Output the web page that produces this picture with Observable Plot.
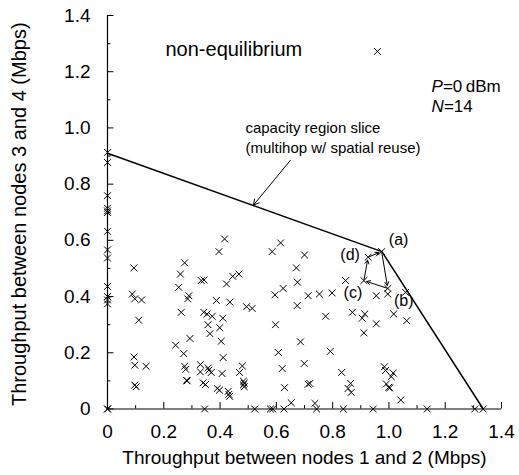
<!DOCTYPE html>
<html><head><meta charset="utf-8">
<script src="https://cdn.jsdelivr.net/npm/d3@7"></script>
<script src="https://cdn.jsdelivr.net/npm/@observablehq/plot@0.6"></script>
<style>body{margin:0;background:#fff}svg{font-family:"Liberation Sans",Arial,Helvetica,sans-serif}</style>
</head><body><div id="chart"></div>
<script>
// Throughput pairs (nodes 1-2, nodes 3-4) in Mbps, non-equilibrium points
const ptX = [0,0,0,0,0,0,0,0,0,0,0,0,0,0,0,
0.094,0.088,0.097,0.121,0.111,0.094,0.097,0.137,0.097,0.102,
0.274,0.259,0.253,0.333,0.343,0.289,0.285,0.262,0.342,0.354,0.372,
0.396,0.416,0.423,0.387,0.435,0.410,
0.242,0.293,0.271,0.274,0.278,0.281,0.283,
0.330,0.330,0.358,0.360,0.369,0.340,0.348,
0.357,0.364,0.399,0.404,0.411,0.407,
0.390,0.398,0.429,0.431,0.434,0.345,
0.615,0.585,0.700,0.671,0.675,0.624,0.595,0.713,0.753,0.798,0.674,0.775,0.846,0.870,
0.445,0.467,0.494,0.514,
0.597,0.686,0.607,0.792,0.699,0.621,0.479,0.469,
0.483,0.486,0.483,0.486,
0.629,0.713,0.719,0.653,0.737,
0.832,0.864,0.855,0.866,
0.523,0.579,0.587,0.627,0.743,0.838,0.944,1.136,1.305,1.335,
0.974,0.926,0.911,0.996,0.996,0.955,1.059,1.017,1.063,0.905,0.914,0.955,0.911,
0.984,0.988,1.015,1.008,0.991,0.999,1.003,1.042];
const ptY = [0.913,0.877,0.759,0.714,0.705,0.699,0.632,0.566,0.537,0.436,0.400,0.388,0.374,0,0,
0.502,0.409,0.392,0.388,0.316,0.185,0.156,0.152,0.085,0.079,
0.520,0.480,0.433,0.457,0.459,0.403,0.392,0.344,0.344,0.338,0.330,
0.560,0.605,0.445,0.386,0.380,0.323,
0.227,0.251,0.197,0.152,0.141,0.102,0.100,
0.158,0.132,0.146,0.138,0.130,0.093,0.087,
0.300,0.268,0.289,0.241,0.183,0.126,
0.073,0.067,0.063,0.052,0.045,0,
0.591,0.560,0.548,0.502,0.451,0.429,0.406,0.403,0.409,0.413,0.368,0.330,0.457,0.344,
0.472,0.480,0.364,0.358,
0.300,0.239,0.201,0.205,0.162,0.144,0.153,0.130,
0.099,0.092,0.086,0.079,
0.076,0.088,0.091,0.022,0.020,
0.130,0.091,0.073,0.059,
0,0,0,0,0,0,0,0,0,0,
0.560,0.540,0.457,0.429,0.409,0.403,0.415,0.338,0.314,0.323,0.338,0.303,0.271,
0.150,0.137,0.128,0.115,0.089,0.077,0.075,0.032];

// Capacity region slice (multihop w/ spatial reuse)
const capX = [0, 0.975, 1.335];
const capY = [0.91, 0.56, 0];

// Cycle (a) -> (b) -> (c) -> (d) -> (a)
const cycleLabels = ["(a)", "(b)", "(c)", "(d)"];
const cycleX = [0.974, 0.996, 0.911, 0.926];
const cycleY = [0.560, 0.429, 0.457, 0.540];

const majorTicks = [0, 0.2, 0.4, 0.6, 0.8, 1.0, 1.2, 1.4];
const minorTicks = [0.1, 0.3, 0.5, 0.7, 0.9, 1.1, 1.3];
const tickLabels = ["0", "0.2", "0.4", "0.6", "0.8", "1.0", "1.2", "1.4"];

const points = ptX.map((x, i) => ({x, y: ptY[i]}));
const cap = capX.map((x, i) => ({x, y: capY[i]}));
const cyc = cycleX.map((x, i) => ({x, y: cycleY[i], label: cycleLabels[i]}));
const cycArrows = cyc.map((d, i) => ({a: d, b: cyc[(i + 1) % cyc.length]}));
const majorT = majorTicks.map((v, i) => ({v, label: tickLabels[i]}));

const MAJ = 0.023, MIN = 0.012;
const fs = 19;

const chart = Plot.plot({
  width: 519, height: 475,
  marginLeft: 107, marginRight: 18, marginTop: 15, marginBottom: 66.5,
  x: {domain: [0, 1.4], axis: null},
  y: {domain: [0, 1.4], axis: null},
  style: {fontFamily: '"Liberation Sans", Arial, Helvetica, sans-serif', background: "white", color: "black"},
  marks: [
    // axes lines
    Plot.ruleY([0], {x1: 0, x2: 1.4, stroke: "black", strokeWidth: 1.2}),
    Plot.ruleX([0], {y1: 0, y2: 1.4, stroke: "black", strokeWidth: 1.2}),
    // inward ticks
    Plot.ruleX(majorTicks, {x: d => d, y1: 0, y2: MAJ, stroke: "black"}),
    Plot.ruleX(minorTicks, {x: d => d, y1: 0, y2: MIN, stroke: "black"}),
    Plot.ruleY(majorTicks, {y: d => d, x1: 0, x2: MAJ, stroke: "black"}),
    Plot.ruleY(minorTicks, {y: d => d, x1: 0, x2: MIN, stroke: "black"}),
    // tick labels
    Plot.text(majorT, {x: "v", y: 0, dy: 23, text: "label", fontSize: fs}),
    Plot.text(majorT, {x: 0, y: "v", dx: -17, textAnchor: "end", text: "label", fontSize: fs}),
    // axis titles
    Plot.text(["Throughput between nodes 1 and 2 (Mbps)"], {frameAnchor: "bottom", dy: 55, textAnchor: "middle", fontSize: fs}),
    Plot.text(["Throughput between nodes 3 and 4 (Mbps)"], {frameAnchor: "left", dx: -88, dy: 2, rotate: -90, textAnchor: "middle", fontSize: 20}),
    // capacity region slice
    Plot.line(cap, {x: "x", y: "y", stroke: "black", strokeWidth: 1.5}),
    // points
    Plot.dot(points, {x: "x", y: "y", symbol: "times", r: 3.2, stroke: "black", strokeWidth: 1}),
    // cycle arrows
    Plot.arrow(cycArrows, {x1: d => d.a.x, y1: d => d.a.y, x2: d => d.b.x, y2: d => d.b.y, stroke: "black", strokeWidth: 1, headLength: 6, insetStart: 1, insetEnd: 3}),
    Plot.text(cyc.slice(0,1), {x: "x", y: "y", text: "label", dx: 17, dy: -12, fontSize: 16}),
    Plot.text(cyc.slice(1,2), {x: "x", y: "y", text: "label", dx: 16, dy: 12, fontSize: 16}),
    Plot.text(cyc.slice(2,3), {x: "x", y: "y", text: "label", dx: -11, dy: 12, fontSize: 16}),
    Plot.text(cyc.slice(3,4), {x: "x", y: "y", text: "label", dx: -18, dy: -2, fontSize: 16}),
    // legend
    Plot.text(["non-equilibrium"], {x: 0.206, y: 1.278, textAnchor: "start", fontSize: 20}),
    Plot.dot([0], {x: 0.959, y: 1.272, symbol: "times", r: 3.2, stroke: "black", strokeWidth: 1}),
    // parameters (italic variable names)
    Plot.text(["P"], {x: 1.151, y: 1.146, textAnchor: "start", fontStyle: "italic", fontSize: 17}),
    Plot.text(["=0\u2009dBm"], {x: 1.151, y: 1.146, dx: 11.5, textAnchor: "start", fontSize: 17}),
    Plot.text(["N"], {x: 1.151, y: 1.076, textAnchor: "start", fontStyle: "italic", fontSize: 17}),
    Plot.text(["=14"], {x: 1.151, y: 1.076, dx: 12.5, textAnchor: "start", fontSize: 17}),
    // capacity annotation
    Plot.text(["capacity region slice"], {x: 0.49, y: 1.0, textAnchor: "start", fontSize: 15}),
    Plot.text(["(multihop w/ spatial reuse)"], {x: 0.49, y: 0.927, textAnchor: "start", fontSize: 15}),
    Plot.arrow([0], {x1: 0.650, y1: 0.885, x2: 0.519, y2: 0.726, stroke: "black", strokeWidth: 1, headLength: 9})
  ]
});
document.getElementById("chart").appendChild(chart);
</script>
</body></html>
